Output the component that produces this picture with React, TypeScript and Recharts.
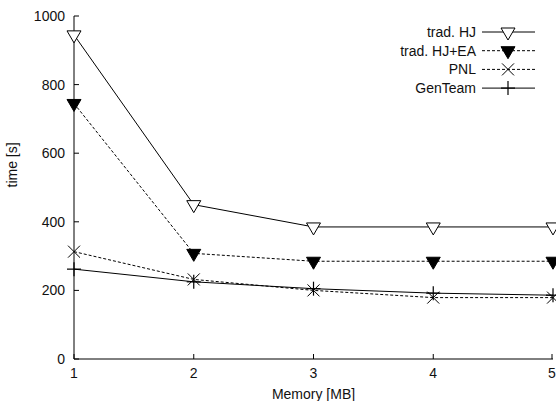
import { FC } from 'react';
import { LineChart, Line, XAxis, YAxis } from 'recharts';

const memory = [1, 2, 3, 4, 5];
const tradHJ = [945, 450, 385, 385, 385];
const tradHJEA = [745, 308, 285, 285, 285];
const pnl = [313, 232, 200, 179, 179];
const genTeam = [262, 225, 205, 192, 186];

const xTicks = [1, 2, 3, 4, 5];
const yTicks = [0, 200, 400, 600, 800, 1000];

const chartData = memory.map((m, i) => ({
  memory: m,
  hj: tradHJ[i],
  hjea: tradHJEA[i],
  pnl: pnl[i],
  gen: genTeam[i]
}));

const FONT = '"Liberation Sans", Arial, sans-serif';
const TICK = 5;

type Shape = 'triOpen' | 'triFilled' | 'cross' | 'plus';

const Marker: FC<{ shape: Shape; cx: number; cy: number }> = ({ shape, cx, cy }) => {
  if (shape === 'triOpen' || shape === 'triFilled') {
    const pts = `${cx - 7},${cy - 4} ${cx + 7},${cy - 4} ${cx},${cy + 8}`;
    return (
      <polygon
        points={pts}
        fill={shape === 'triFilled' ? '#000' : '#fff'}
        stroke="#000"
        strokeWidth={1}
      />
    );
  }
  if (shape === 'cross') {
    return (
      <g stroke="#000" strokeWidth={1}>
        <line x1={cx - 6} y1={cy - 6} x2={cx + 6} y2={cy + 6} />
        <line x1={cx - 6} y1={cy + 6} x2={cx + 6} y2={cy - 6} />
      </g>
    );
  }
  return (
    <g stroke="#000" strokeWidth={1.2}>
      <line x1={cx - 7} y1={cy} x2={cx + 7} y2={cy} />
      <line x1={cx} y1={cy - 7} x2={cx} y2={cy + 7} />
    </g>
  );
};

const dotFor = (shape: Shape) => (props: any) => (
  <Marker key={`${shape}-${props.index}`} shape={shape} cx={props.cx} cy={props.cy} />
);

const series: { key: string; name: string; shape: Shape; dash?: string }[] = [
  { key: 'hj', name: 'trad. HJ', shape: 'triOpen' },
  { key: 'hjea', name: 'trad. HJ+EA', shape: 'triFilled', dash: '3 2' },
  { key: 'pnl', name: 'PNL', shape: 'cross', dash: '3 2' },
  { key: 'gen', name: 'GenTeam', shape: 'plus' }
];

const BottomTick = (props: any) => {
  const { x, y, payload } = props;
  return (
    <g>
      <line x1={x} y1={y} x2={x} y2={y - TICK} stroke="#000" />
      <text x={x} y={y + 19} textAnchor="middle" fontSize={14} fontFamily={FONT} fill="#111">
        {payload.value}
      </text>
    </g>
  );
};

const TopTick = (props: any) => {
  const { x, y } = props;
  return <line x1={x} y1={y} x2={x} y2={y + TICK} stroke="#000" />;
};

const LeftTick = (props: any) => {
  const { x, y, payload } = props;
  return (
    <g>
      <line x1={x} y1={y} x2={x + TICK} y2={y} stroke="#000" />
      <text x={x - 9} y={y + 5} textAnchor="end" fontSize={14} fontFamily={FONT} fill="#111">
        {payload.value}
      </text>
    </g>
  );
};

const RightTick = (props: any) => {
  const { x, y } = props;
  return <line x1={x} y1={y} x2={x - TICK} y2={y} stroke="#000" />;
};

const KeyBox: FC = () => (
  <g fontFamily={FONT} fontSize={14} fill="#111">
    {series.map((s, i) => {
      const y = 32 + i * 18.7;
      return (
        <g key={s.key}>
          <text x={476} y={y + 5} textAnchor="end">
            {s.name}
          </text>
          <line x1={482} y1={y} x2={535} y2={y} stroke="#000" strokeDasharray={s.dash} />
          <Marker shape={s.shape} cx={508} cy={y} />
        </g>
      );
    })}
  </g>
);

const App: FC = () => {
  return (
    <div style={{ position: 'absolute', left: 0, top: 0, width: 556, height: 401, background: '#fff' }}>
      <LineChart
        width={556}
        height={401}
        data={chartData}
        margin={{ top: 16, right: 3, left: 0, bottom: 0 }}
      >
        <XAxis
          xAxisId="b"
          dataKey="memory"
          type="number"
          domain={[1, 5]}
          ticks={xTicks}
          height={42}
          tickSize={0}
          tickMargin={0}
          tickLine={false}
          tick={BottomTick}
          axisLine={{ stroke: '#000' }}
          label={{ value: 'Memory [MB]', position: 'insideBottom', offset: 2, fontSize: 14, fontFamily: FONT, fill: '#111' }}
        />
        <XAxis
          xAxisId="t"
          orientation="top"
          dataKey="memory"
          type="number"
          domain={[1, 5]}
          ticks={xTicks}
          height={0}
          tickSize={0}
          tickMargin={0}
          tickLine={false}
          tick={TopTick}
          axisLine={{ stroke: '#000' }}
        />
        <YAxis
          yAxisId="l"
          type="number"
          domain={[0, 1000]}
          ticks={yTicks}
          width={74}
          tickSize={0}
          tickMargin={0}
          tickLine={false}
          tick={LeftTick}
          axisLine={{ stroke: '#000' }}
          label={{ value: 'time [s]', angle: -90, position: 'insideLeft', offset: 12, fontSize: 14, fontFamily: FONT, fill: '#111' }}
        />
        <YAxis
          yAxisId="r"
          orientation="right"
          type="number"
          domain={[0, 1000]}
          ticks={yTicks}
          width={0}
          tickSize={0}
          tickMargin={0}
          tickLine={false}
          tick={RightTick}
          axisLine={{ stroke: '#000' }}
        />
        {series.map((s) => (
          <Line
            key={s.key}
            xAxisId="b"
            yAxisId="l"
            type="linear"
            dataKey={s.key}
            name={s.name}
            stroke="#000"
            strokeWidth={1}
            strokeDasharray={s.dash}
            dot={dotFor(s.shape)}
            activeDot={false}
            isAnimationActive={false}
          />
        ))}
        <KeyBox />
      </LineChart>
    </div>
  );
};

export default App;
